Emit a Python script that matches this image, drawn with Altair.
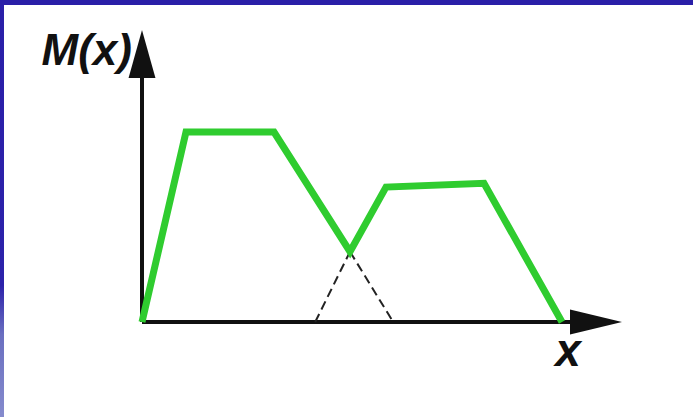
import altair as alt
import pandas as pd

# Aggregated output membership: union of two clipped trapezoids
green_x = [0, 1.1, 3.3, 5.2, 6.1, 8.55, 10.5]
green_mu = [0, 1.0, 1.0, 0.37, 0.71, 0.73, 0]

# Hidden parts of the two membership functions below their intersection
dash_seg = ["a", "a", "b", "b"]
dash_x = [4.33, 5.2, 5.2, 6.28]
dash_mu = [0, 0.37, 0.37, 0]

# Axis extents (arrow bases) and arrowhead centres
x_axis_end = 10.7
y_axis_end = 1.29
x_arrow = 11.35
y_arrow = 1.41

# Layout: plot area in pixels and where the origin sits inside it
W, H = 689, 412
ORIGIN_PX = (138, 317)
PX_PER_X = 40.0
PX_PER_MU = 190.0

x_dom = [-ORIGIN_PX[0] / PX_PER_X, (W - ORIGIN_PX[0]) / PX_PER_X]
y_dom = [-(H - ORIGIN_PX[1]) / PX_PER_MU, ORIGIN_PX[1] / PX_PER_MU]

xs = alt.Scale(domain=x_dom, nice=False, zero=False)
ys = alt.Scale(domain=y_dom, nice=False, zero=False)

green = pd.DataFrame({"x": green_x, "mu": green_mu, "order": range(len(green_x))})
dashed = pd.DataFrame({"seg": dash_seg, "x": dash_x, "mu": dash_mu})
axes = pd.DataFrame({
    "x": [0, 0], "x2": [x_axis_end, 0],
    "y": [0, 0], "y2": [0, y_axis_end],
})
arrows = pd.DataFrame({
    "x": [x_arrow, 0], "y": [0, y_arrow], "dir": ["right", "up"],
})
labels = pd.DataFrame({
    "x": [-0.25, 10.65], "y": [1.353, -0.232], "text": ["M(x)", "x"],
})

# Left edge strip of the slide frame
strip = alt.Chart(pd.DataFrame({"k": [0]})).mark_rect(
    color=alt.LinearGradient(
        gradient="linear", x1=0, y1=0, x2=0, y2=1,
        stops=[
            alt.GradientStop(offset=0, color="#2a1fa8"),
            alt.GradientStop(offset=0.68, color="#2c22aa"),
            alt.GradientStop(offset=0.8, color="#6a6fc0"),
            alt.GradientStop(offset=1, color="#858bcd"),
        ],
    )
).encode(x=alt.value(-4), x2=alt.value(0), y=alt.value(0), y2=alt.value(H))

axis_lines = alt.Chart(axes).mark_rule(color="#111111", strokeWidth=4).encode(
    x=alt.X("x:Q", scale=xs, axis=None),
    x2="x2:Q",
    y=alt.Y("y:Q", scale=ys, axis=None),
    y2="y2:Q",
)

arrow_right = alt.Chart(arrows[arrows.dir == "right"]).mark_point(
    shape="M1,0L-1,-0.48L-1,0.48Z", size=52 * 52, filled=True,
    color="#111111", opacity=1,
).encode(x=alt.X("x:Q", scale=xs), y=alt.Y("y:Q", scale=ys))

arrow_up = alt.Chart(arrows[arrows.dir == "up"]).mark_point(
    shape="M0,-1L0.56,1L-0.56,1Z", size=48 * 48, filled=True,
    color="#111111", opacity=1,
).encode(x=alt.X("x:Q", scale=xs), y=alt.Y("y:Q", scale=ys))

dash_lines = alt.Chart(dashed).mark_line(
    color="#222222", strokeWidth=2, strokeDash=[9, 5]
).encode(
    x=alt.X("x:Q", scale=xs), y=alt.Y("mu:Q", scale=ys), detail="seg:N"
)

green_line = alt.Chart(green).mark_line(
    color="#2fcc2f", strokeWidth=7, strokeJoin="miter"
).encode(
    x=alt.X("x:Q", scale=xs), y=alt.Y("mu:Q", scale=ys), order="order:Q"
)

text_m = alt.Chart(labels[labels.text == "M(x)"]).mark_text(
    font="Liberation Sans", fontSize=44, fontWeight="bold", fontStyle="italic",
    align="right", baseline="alphabetic", color="#111111",
).encode(x=alt.X("x:Q", scale=xs), y=alt.Y("y:Q", scale=ys), text="text:N")

text_x = alt.Chart(labels[labels.text == "x"]).mark_text(
    font="Liberation Sans", fontSize=46, fontWeight="bold", fontStyle="italic",
    align="center", baseline="alphabetic", color="#111111",
).encode(x=alt.X("x:Q", scale=xs), y=alt.Y("y:Q", scale=ys), text="text:N")

chart = alt.layer(
    strip, axis_lines, dash_lines, green_line, arrow_right, arrow_up, text_m, text_x
).properties(
    width=W, height=H,
    padding={"left": 4, "top": 5, "right": 0, "bottom": 0},
    autosize=alt.AutoSizeParams(type="none"),
    background="#2a1fa8",
).configure_view(stroke=None, fill="white")

chart.save("out.html", embed_options={"renderer": "svg", "actions": False})
